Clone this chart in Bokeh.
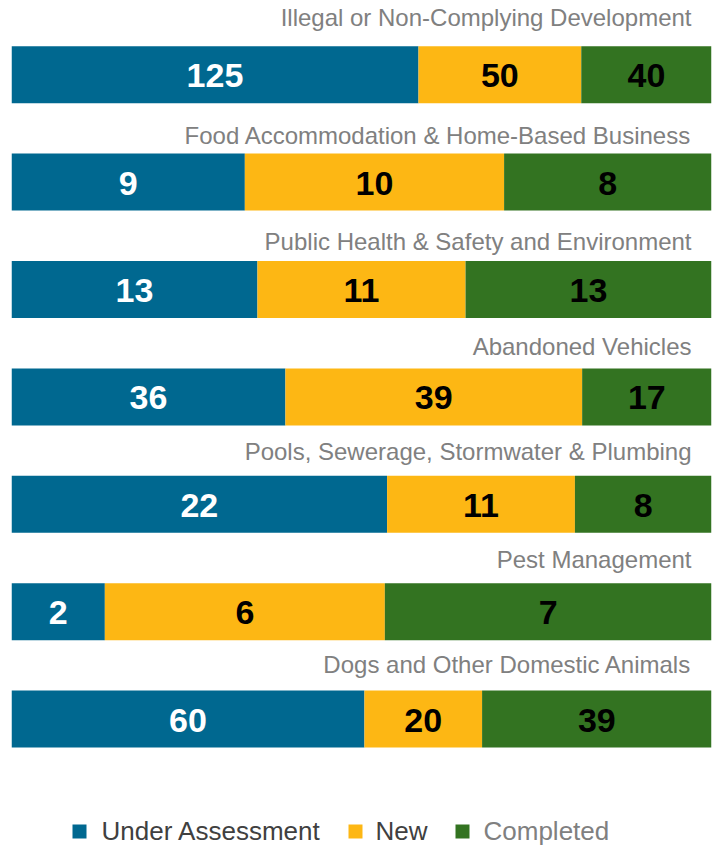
from bokeh.plotting import figure
from bokeh.models import Range1d, ColumnDataSource
from bokeh.core.properties import value
from bokeh.embed import file_html
from bokeh.resources import INLINE

categories = [
    "Illegal or Non-Complying Development",
    "Food Accommodation & Home-Based Business",
    "Public Health & Safety and Environment",
    "Abandoned Vehicles",
    "Pools, Sewerage, Stormwater & Plumbing",
    "Pest Management",
    "Dogs and Other Domestic Animals",
]
under_assessment = [125, 9, 13, 36, 22, 2, 60]
new = [50, 10, 11, 39, 11, 6, 20]
completed = [40, 8, 13, 17, 8, 7, 39]

series_names = ["Under Assessment", "New", "Completed"]
series_colors = ["#006890", "#FDB714", "#337321"]
value_text_colors = ["#FFFFFF", "#000000", "#000000"]
legend_text_colors = ["#404040", "#404040", "#808080"]
# distance (px) from label text centre to top of its bar, per row (layout)
label_gap_px = [28.4, 18.1, 19.5, 21.8, 24.1, 23.4, 26.6]

FONT = "Liberation Sans"
W, H = 716, 845
ROW_PX = 107.4
BAR_PX = 57.0
TOP0_PX = 74.2  # centre of first row relative to figure top

p = figure(width=W, height=H, output_backend="svg", toolbar_location=None,
           x_range=Range1d(0, 1),
           y_range=Range1d((H - TOP0_PX) / ROW_PX, -TOP0_PX / ROW_PX),
           min_border_left=11, min_border_right=5, min_border_top=0, min_border_bottom=0)
p.axis.visible = False
p.grid.visible = False
p.outline_line_color = None
p.background_fill_color = "white"

n = len(categories)
rows = list(range(n))
series = [under_assessment, new, completed]
totals = [sum(v) for v in zip(*series)]
left = [0.0] * n
bar_h = BAR_PX / ROW_PX
for vals, col, tcol in zip(series, series_colors, value_text_colors):
    frac = [v / t for v, t in zip(vals, totals)]
    right = [l + f for l, f in zip(left, frac)]
    src = ColumnDataSource(dict(y=rows, left=left, right=right,
                                mid=[(l + r) / 2 for l, r in zip(left, right)],
                                lab=[str(v) for v in vals]))
    p.hbar(y="y", left="left", right="right", height=bar_h, source=src,
           fill_color=col, line_color=None)
    p.text(x="mid", y="y", text="lab", source=src, text_align="center",
           text_baseline="middle", text_color=tcol, text_font=value(FONT),
           text_font_style="bold", text_font_size="34px", y_offset=1)
    left = right

# category titles above each bar
cat_src = ColumnDataSource(dict(x=[680 / 700] * n,
                                y=[r - bar_h / 2 - g / ROW_PX for r, g in zip(rows, label_gap_px)],
                                t=categories))
p.text(x="x", y="y", text="t", source=cat_src, text_align="right",
       text_baseline="middle", text_color="#808080", text_font=value(FONT),
       text_font_size="24px")

# legend
leg_y = (831 - 75.2) / ROW_PX
sq_x = [(80 - 12) / 700, (356 - 12) / 700, (463 - 12) / 700]
tx_x = [(102 - 12) / 700, (376 - 12) / 700, (484 - 12) / 700]
p.scatter(x=sq_x, y=[leg_y + 1 / ROW_PX] * 3, marker="square", size=14,
          fill_color=series_colors, line_color=None)
p.text(x=tx_x, y=[leg_y] * 3, text=series_names, text_align="left",
       text_baseline="middle", text_color=legend_text_colors,
       text_font=value(FONT), text_font_size="26px")

open("out.html", "w").write(file_html(p, INLINE))
